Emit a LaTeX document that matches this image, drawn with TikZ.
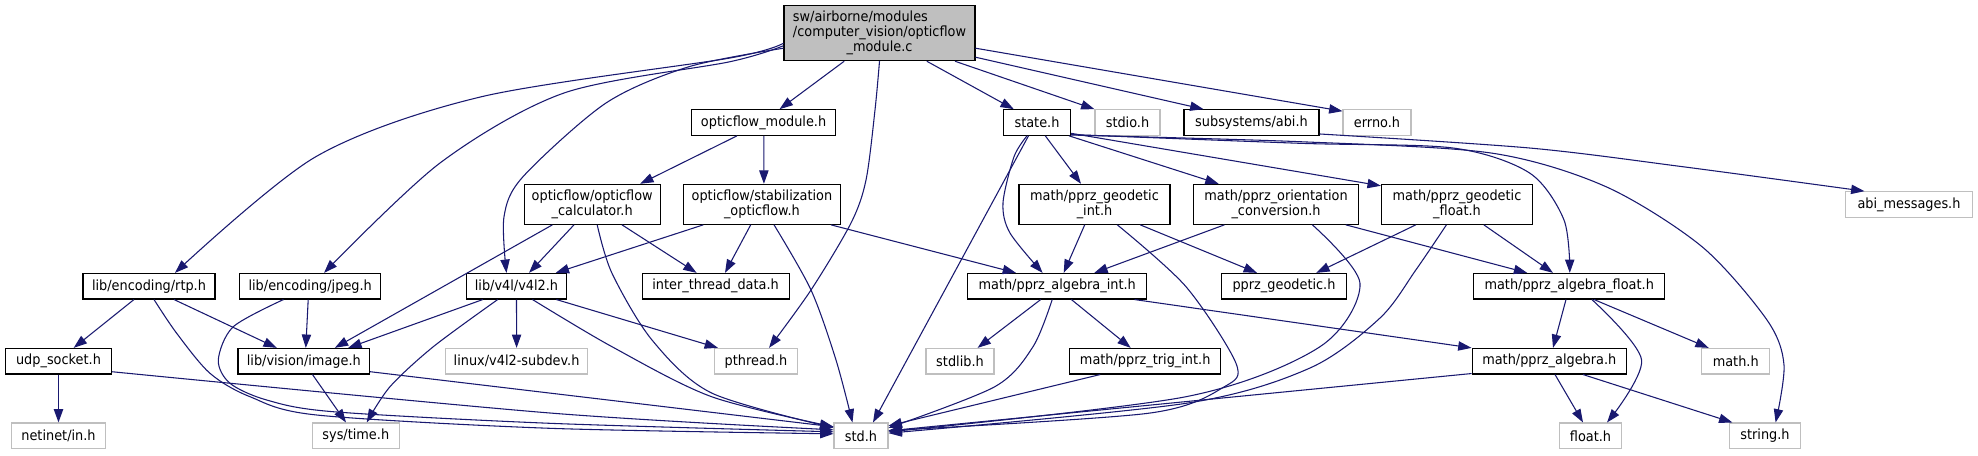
\documentclass[tikz,border=0pt]{standalone}
\usepackage{fontspec}
\setmainfont{DejaVu Sans}[FakeStretch=0.92]
\usetikzlibrary{arrows.meta,calc}
\definecolor{edgec}{HTML}{191970}
\definecolor{grayb}{HTML}{BFBFBF}
\newcommand\ndfont{\fontsize{10.5}{11}\selectfont}
\begin{document}
\begin{tikzpicture}[x=0.75pt,y=-0.75pt,
 nd/.style={draw=black,line width=0.8pt,rectangle,inner sep=0pt,minimum height=19.2pt,font=\ndfont,align=center},
 ext/.style={nd,draw=grayb},
 two/.style={minimum height=30pt},
 bw/.style={minimum width=#1*0.75pt},
 e/.style={draw=edgec,line width=0.8pt,-{Triangle[length=10pt,width=7pt]}},
]
\useasboundingbox[fill=white] (0,0) rectangle (1978,455);
% rank 0
\node[nd,bw=191,minimum height=41.25pt,fill=grayb] (main) at (879.5,33.2)
  {\begin{tabular}{@{}l@{}}sw/airborne/modules\\/computer\_vision/opticflow\\\multicolumn{1}{@{}c@{}}{\_module.c}\end{tabular}};
% rank 1
\node[nd,bw=144] (ofm) at (763.6,122.5) {opticflow\_module.h};
\node[nd,bw=67] (state) at (1037,122.5) {state.h};
\node[ext,bw=65] (stdio) at (1127.5,122.5) {stdio.h};
\node[nd,bw=135] (abi) at (1251.5,122.5) {subsystems/abi.h};
\node[ext,bw=68] (errno) at (1377,122.5) {errno.h};
% rank 2
\node[nd,two,bw=136] (calc) at (592.2,204.3) {opticflow/opticflow\\\_calculator.h};
\node[nd,two,bw=157] (stab) at (761.9,204.3) {opticflow/stabilization\\\_opticflow.h};
\node[nd,two,bw=151] (gint) at (1094.5,204.3) {math/pprz\_geodetic\\\_int.h};
\node[nd,two,bw=164.6] (orient) at (1276,204.3) {math/pprz\_orientation\\\_conversion.h};
\node[nd,two,bw=151.3] (gfloat) at (1457,204.3) {math/pprz\_geodetic\\\_float.h};
\node[ext,bw=126.7] (abimsg) at (1909,204.5) {abi\_messages.h};
% rank 3
\node[nd,bw=132] (rtp) at (149,286.2) {lib/encoding/rtp.h};
\node[nd,bw=141] (jpeg) at (310.2,286.2) {lib/encoding/jpeg.h};
\node[nd,bw=100] (v4l2) at (516.5,286.2) {lib/v4l/v4l2.h};
\node[nd,bw=147] (itd) at (715.6,286.2) {inter\_thread\_data.h};
\node[nd,bw=179] (aint) at (1057.2,286.2) {math/pprz\_algebra\_int.h};
\node[nd,bw=124.3] (geod) at (1284,286.2) {pprz\_geodetic.h};
\node[nd,bw=190.7] (afloat) at (1569.2,286.2) {math/pprz\_algebra\_float.h};
% rank 4
\node[nd,bw=106] (udp) at (58.5,361.2) {udp\_socket.h};
\node[nd,bw=131.6] (image) at (303.8,361.2) {lib/vision/image.h};
\node[ext,bw=142] (subdev) at (516.6,361.2) {linux/v4l2-subdev.h};
\node[ext,bw=83] (pthread) at (756,361.2) {pthread.h};
\node[ext,bw=68] (stdlib) at (960,361.2) {stdlib.h};
\node[nd,bw=150.8] (trig) at (1145.2,361.2) {math/pprz\_trig\_int.h};
\node[nd,bw=154.5] (alg) at (1549.3,361.2) {math/pprz\_algebra.h};
\node[ext,bw=68] (mathh) at (1735.7,361.2) {math.h};
% rank 5
\node[ext,bw=94.6] (netinet) at (58.5,435.8) {netinet/in.h};
\node[ext,bw=87.5] (systime) at (355.8,435.8) {sys/time.h};
\node[ext,bw=54] (std) at (861,435.8) {std.h};
\node[ext,bw=62.3] (floath) at (1590.5,435.8) {float.h};
\node[ext,bw=70.5] (stringh) at (1765,435.8) {string.h};

% edges from main
\draw[e] ($(main.south)+(-35.3,0)$) -- ($(ofm.north)+(16,0)$);
\draw[e] ($(main.south)+(47.3,0)$) -- ($(state.north)+(-23.2,0)$);
\draw[e] ($(main.south)+(75.5,0)$) -- (stdio.north west);
\draw[e] ($(main.east)+(0,24)$) -- ($(abi.north)+(-48,0)$);
\draw[e] ($(main.east)+(0,15)$) -- ($(errno.north west)+(0,2)$);
\draw[e] plot[smooth] coordinates {(main.south) (875,110) (866,180) (851,223) (811,290) ([xshift=9.75pt]pthread.north)};
\draw[e] plot[smooth] coordinates {([yshift=-7.5pt]main.west) (730,58) (481.6,96.7) (315.8,156.7) ([xshift=19.5pt]rtp.north)};
\draw[e] plot[smooth] coordinates {([yshift=-9.4pt]main.west) (730,61.7) (564,93) (440,163) ([xshift=10.35pt]jpeg.north)};
\draw[e] plot[smooth] coordinates {([yshift=-11.25pt]main.west) (689,66.7) (606,103) (523,176.7) (504,216.7) ([xshift=-7.5pt]v4l2.north)};
% opticflow_module
\draw[e] ($(ofm.south)+(-26.6,0)$) -- ($(calc.north)+(48,0)$);
\draw[e] ($(ofm.south)+(0.2,0)$) -- ($(stab.north)+(2,0)$);
% state
\draw[e] ($(state.south)+(-8.5,0)$) -- ($(std.north)+(12,0)$);
\draw[e] plot[smooth] coordinates {([xshift=-7.5pt]state.south) (1014,156.7) (1003,203) (1010,233) ([xshift=-10.95pt]aint.north)};
\draw[e] ($(state.south)+(8.3,0)$) -- ($(gint.north)+(-13.5,0)$);
\draw[e] ($(state.south east)+(-2,0)$) -- ($(orient.north)+(-57.4,0)$);
\draw[e] ($(state.east)+(0,10.8)$) -- ($(gfloat.north west)+(0,2)$);
\draw[e] plot[smooth] coordinates {([yshift=-9pt]state.east) (1300,143.3) (1453,148) (1529.6,173) (1564,220) ([xshift=0.45pt]afloat.north)};
\draw[e] plot[smooth] coordinates {([yshift=-9.4pt]state.east) (1300,141.7) (1491,153) (1606,186.7) (1702,246.7) (1767,320) (1784,365) ([xshift=7.95pt]stringh.north)};
% abi
\draw[e] plot[smooth] coordinates {([yshift=-8.6pt]abi.east) (1529.6,148) (1682.7,166.7) ([xshift=-33.4pt]abimsg.north)};
% calculator
\draw[e] ($(calc.south)+(-39.8,0)$) -- ($(image.north)+(31,0)$);
\draw[e] ($(calc.south)+(-18.2,0)$) -- ($(v4l2.north)+(12.5,0)$);
\draw[e] ($(calc.south)+(29.8,0)$) -- ($(itd.north)+(-19,0)$);
\draw[e] plot[smooth] coordinates {([xshift=3.75pt]calc.south) (612,273.3) (652,340) (711.6,393) ([yshift=6pt]std.west)};
% stabilization
\draw[e] ($(stab.south)+(-58.6,0)$) -- ($(v4l2.north)+(39.2,0)$);
\draw[e] ($(stab.south)+(-11.2,0)$) -- ($(itd.north)+(9.4,0)$);
\draw[e] plot[smooth] coordinates {([xshift=9.1pt]stab.south) (811,290) (836,360) ([xshift=-6.4pt]std.north)};
\draw[e] ($(stab.south east)+(-10,0)$) -- ($(aint.north)+(-41.2,0)$);
% geodetic int
\draw[e] ($(gint.south)+(-9.8,0)$) -- ($(aint.north)+(6.5,0)$);
\draw[e] ($(gint.south)+(45.7,0)$) -- ($(geod.north)+(-27,0)$);
\draw[e] plot[smooth] coordinates {([xshift=17.1pt]gint.south) (1186,286.7) (1236,363.3) (1224.4,386.7) (1148,413.3) ([yshift=4pt]std.east)};
% orientation
\draw[e] ($(orient.south)+(-51.6,0)$) -- ($(aint.north)+(37.1,0)$);
\draw[e] ($(orient.south east)+(-13,0)$) -- ($(afloat.north)+(-42,0)$);
\draw[e] plot[smooth] coordinates {([xshift=27.3pt]orient.south) (1360,283.3) (1320,346.7) (1186,396.7) ([yshift=3pt]std.east)};
% geodetic float
\draw[e] ($(gfloat.south)+(-41.2,0)$) -- ($(geod.north)+(32.3,0)$);
\draw[e] ($(gfloat.south)+(26.8,0)$) -- ($(afloat.north)+(-16.2,0)$);
\draw[e] plot[smooth] coordinates {([xshift=-7.95pt]gfloat.south) (1415.8,270) (1380,318) (1310,368) (1186,403.3) ([yshift=2pt]std.east)};
% rtp
\draw[e] ($(rtp.south)+(-15,0)$) -- ($(udp.north)+(15.2,0)$);
\draw[e] ($(rtp.south)+(25,0)$) -- ($(image.north)+(-27,0)$);
\draw[e] plot[smooth] coordinates {([xshift=3.75pt]rtp.south) (176.7,333.3) (210,373.3) (250,396.7) (316.7,415) (550,428.3) ([yshift=1.5pt]std.west)};
% jpeg
\draw[e] ($(jpeg.south)+(-2,0)$) -- ($(image.north)+(2,0)$);
\draw[e] plot[smooth] coordinates {([xshift=-20pt]jpeg.south) (233.3,326.7) (218.3,360) (230,383.3) (266.7,400) (333,411.7) (550,423.3) ([yshift=3pt]std.west)};
% v4l2
\draw[e] ($(v4l2.south)+(-33.7,0)$) -- ($(image.north)+(44.4,0)$);
\draw[e] (v4l2.south) -- (subdev.north);
\draw[e] plot[smooth] coordinates {([xshift=-14.1pt]v4l2.south) (433.3,346.7) (390,386.7) ([xshift=8.2pt]systime.north)};
\draw[e] plot[smooth] coordinates {([xshift=12pt]v4l2.south) (612,346.7) (711.6,396.7) ([yshift=6.75pt]std.west)};
\draw[e] ($(v4l2.south east)+(-10.7,0)$) -- ($(pthread.north west)+(4,0)$);
% algebra int
\draw[e] ($(aint.south)+(-16.5,0)$) -- ($(stdlib.north)+(17.6,0)$);
\draw[e] plot[smooth] coordinates {([xshift=-3.75pt]aint.south) (1033,346.7) (994.8,386.7) ([yshift=6pt]std.east)};
\draw[e] ($(aint.south)+(14.2,0)$) -- ($(trig.north)+(-14.5,0)$);
\draw[e] ($(aint.south)+(77.3,0)$) -- (alg.north west);
% algebra float
\draw[e] ($(afloat.south)+(-3.2,0)$) -- ($(alg.north)+(3.7,0)$);
\draw[e] plot[smooth] coordinates {([xshift=17pt]afloat.south) (1641.6,360) ([xshift=12.4pt]floath.north)};
\draw[e] ($(afloat.south)+(24.8,0)$) -- ($(mathh.north)+(-27,0)$);
% rank 4
\draw[e] (udp.south) -- (netinet.north);
\draw[e] plot[smooth] coordinates {([yshift=-7.9pt]udp.east) (550,413) ([yshift=4.5pt]std.west)};
\draw[e] ($(image.south)+(8.7,0)$) -- ($(systime.north)+(-9.8,0)$);
\draw[e] ($(image.east)+(0,10.5)$) -- ($(std.west)+(0,-9)$);
\draw[e] ($(trig.south)+(-45,0)$) -- ($(std.east)+(0,-10)$);
\draw[e] ($(alg.south west)+(0,-1)$) -- ($(std.east)+(0,-5)$);
\draw[e] ($(alg.south)+(5.7,0)$) -- ($(floath.north)+(-7.5,0)$);
\draw[e] ($(alg.south)+(33.7,0)$) -- ($(stringh.north)+(-32.6,0)$);
\end{tikzpicture}
\end{document}
